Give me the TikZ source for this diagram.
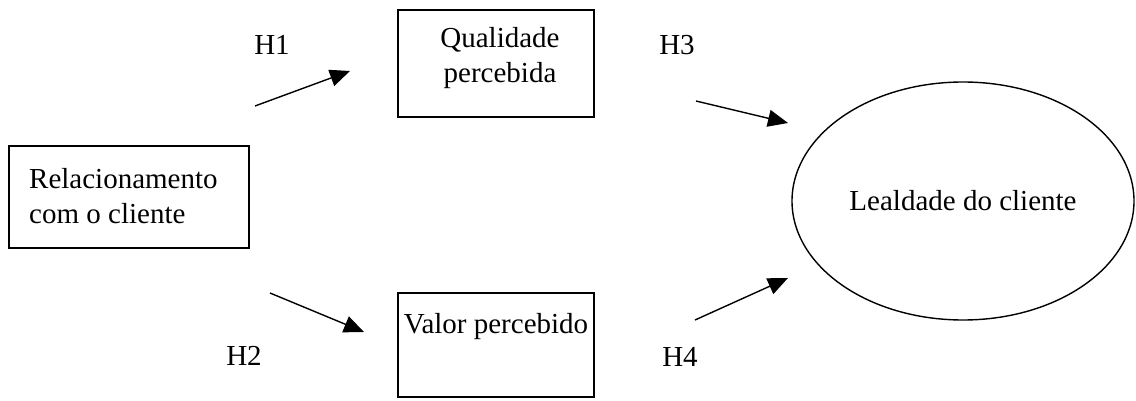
\documentclass[tikz,border=0pt]{standalone}
\usepackage{fontspec}
\setmainfont{Liberation Serif}
\usetikzlibrary{arrows.meta,shapes.geometric}
\begin{document}
\begin{tikzpicture}[x=1pt,y=-1pt,
  every node/.style={font=\fontsize{29}{35}\selectfont},
  box/.style={draw,line width=1.4pt,inner sep=0pt},
  arr/.style={line width=1.4pt,-{Triangle[length=20pt,width=17pt]}},
  lbl/.style={inner sep=0pt}]
\useasboundingbox (0,0) rectangle (1136,401);
\node[box,minimum width=240pt,minimum height=102pt] (rel) at (129,197) {};
\node[lbl,align=left,anchor=west] (reltext) at (29,196) {Relacionamento\\com o cliente};
\node[box,minimum width=196pt,minimum height=107pt] (qual) at (496,63.5) {};
\node[lbl,align=center] (qualtext) at (500,58) {Qualidade\\percebida};
\node[box,minimum width=196pt,minimum height=104pt] (valor) at (496,345) {};
\node[lbl] (valortext) at (496,327) {Valor percebido};
\node[draw,ellipse,line width=1.4pt,minimum width=342pt,minimum height=238pt,inner sep=0pt] (leal) at (963,201) {};
\node[lbl] (lealtext) at (963,201) {Lealdade do cliente};
\coordinate (h1s) at (255,106); \coordinate (h1e) at (350,71);
\coordinate (h3s) at (696,101); \coordinate (h3e) at (788,123);
\coordinate (h2s) at (270,293); \coordinate (h2e) at (364,332);
\coordinate (h4s) at (695,320); \coordinate (h4e) at (788,278);
\draw[arr] (h1s) -- (h1e);
\draw[arr] (h3s) -- (h3e);
\draw[arr] (h2s) -- (h2e);
\draw[arr] (h4s) -- (h4e);
\node[lbl] (H1) at (272,45) {H1};
\node[lbl] (H3) at (677,45) {H3};
\node[lbl] (H2) at (244,356) {H2};
\node[lbl] (H4) at (680,357) {H4};
\end{tikzpicture}
\end{document}
